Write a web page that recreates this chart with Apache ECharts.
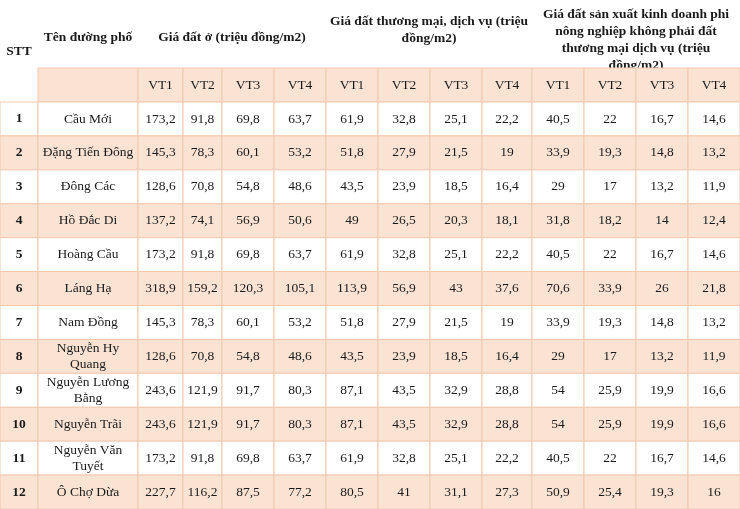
<!DOCTYPE html><html><head><meta charset="utf-8"><script src="https://cdn.jsdelivr.net/npm/echarts@6/dist/echarts.min.js"></script>
<style>html,body{margin:0;background:#fff}#c{width:740px;height:509px}</style></head><body><div id="c"></div><script>
const streets=["Cầu Mới","Đặng Tiến Đông","Đông Các","Hồ Đắc Di","Hoàng Cầu","Láng Hạ","Nam Đồng","Nguyễn Hy\nQuang","Nguyễn Lương\nBằng","Nguyễn Trãi","Nguyễn Văn\nTuyết","Ô Chợ Dừa"];
const datO=[[173.2,91.8,69.8,63.7],[145.3,78.3,60.1,53.2],[128.6,70.8,54.8,48.6],[137.2,74.1,56.9,50.6],[173.2,91.8,69.8,63.7],[318.9,159.2,120.3,105.1],[145.3,78.3,60.1,53.2],[128.6,70.8,54.8,48.6],[243.6,121.9,91.7,80.3],[243.6,121.9,91.7,80.3],[173.2,91.8,69.8,63.7],[227.7,116.2,87.5,77.2]];
const datTM=[[61.9,32.8,25.1,22.2],[51.8,27.9,21.5,19],[43.5,23.9,18.5,16.4],[49,26.5,20.3,18.1],[61.9,32.8,25.1,22.2],[113.9,56.9,43,37.6],[51.8,27.9,21.5,19],[43.5,23.9,18.5,16.4],[87.1,43.5,32.9,28.8],[87.1,43.5,32.9,28.8],[61.9,32.8,25.1,22.2],[80.5,41,31.1,27.3]];
const datSX=[[40.5,22,16.7,14.6],[33.9,19.3,14.8,13.2],[29,17,13.2,11.9],[31.8,18.2,14,12.4],[40.5,22,16.7,14.6],[70.6,33.9,26,21.8],[33.9,19.3,14.8,13.2],[29,17,13.2,11.9],[54,25.9,19.9,16.6],[54,25.9,19.9,16.6],[40.5,22,16.7,14.6],[50.9,25.4,19.3,16]];
const groupTitles=["Giá đất ở (triệu đồng/m2)","Giá đất thương mại, dịch vụ (triệu\nđồng/m2)","Giá đất sản xuất kinh doanh phi\nnông nghiệp không phải đất\nthương mại dịch vụ (triệu\nđồng/m2)"];
const subHeads=["VT1","VT2","VT3","VT4"];
const colHeads=["STT","Tên đường phố"];
// layout
const edges=[0,38,138,183,222,274,326,378,430,482,532,584,636,688,740];
const H1=68,H2=102,RH=(509-102)/12;
const PEACH='#fbe3d3',LINE='#f2c9ae';
const fmt=v=>String(v).replace('.',',');
const cells=[];
function add(c0,c1,y0,y1,text,bold,fill,border,ty){cells.push({x0:edges[c0],x1:edges[c1],y0,y1,text,bold,fill,border,ty});}
add(0,1,0,H2,colHeads[0],true,'#fff',false,52);
add(1,2,0,H1,colHeads[1],true,'#fff',false,38);
groupTitles.forEach((t,g)=>add(2+4*g,6+4*g,0,H1,t,true,'#fff',false,g==2?40:(g==1?30:38)));
add(1,2,H1,H2,'',false,PEACH,true);
for(let g=0;g<3;g++)subHeads.forEach((s,k)=>add(2+4*g+k,3+4*g+k,H1,H2,s,false,PEACH,true));
streets.forEach((n,r)=>{
 const y0=H2+r*RH,y1=y0+RH,f=r%2?PEACH:'#fff';
 add(0,1,y0,y1,String(r+1),true,f,true);
 add(1,2,y0,y1,n,false,f,true);
 [datO,datTM,datSX].forEach((d,g)=>d[r].forEach((v,k)=>add(2+4*g+k,3+4*g+k,y0,y1,fmt(v),false,f,true)));
});
const ch=echarts.init(document.getElementById('c'));
ch.setOption({animation:false,
 grid:{left:0,right:0,top:0,bottom:0},
 xAxis:{type:'value',min:0,max:740,show:false},
 yAxis:{type:'value',min:0,max:509,inverse:true,show:false},
 series:[{type:'custom',data:cells.map((c,i)=>[i]),renderItem:(p,api)=>{
  const c=cells[api.value(0)];const a=api.coord([c.x0,c.y0]),b=api.coord([c.x1,c.y1]);
  const cx=(a[0]+b[0])/2, cy=c.ty!=null?api.coord([0,c.ty])[1]:(a[1]+b[1])/2;
  return {type:'group',children:[
   {type:'rect',shape:{x:a[0],y:a[1],width:b[0]-a[0],height:b[1]-a[1]},style:{fill:c.fill,stroke:c.border?LINE:null,lineWidth:1}},
   {type:'text',style:{x:cx,y:cy,text:c.text,align:'center',verticalAlign:'middle',fontFamily:'Liberation Serif',fontSize:13.5,fontWeight:c.bold?'bold':'normal',fill:'#1a1a1a',lineHeight:c.bold?17:16}}]};
 }}]});
</script></body></html>
